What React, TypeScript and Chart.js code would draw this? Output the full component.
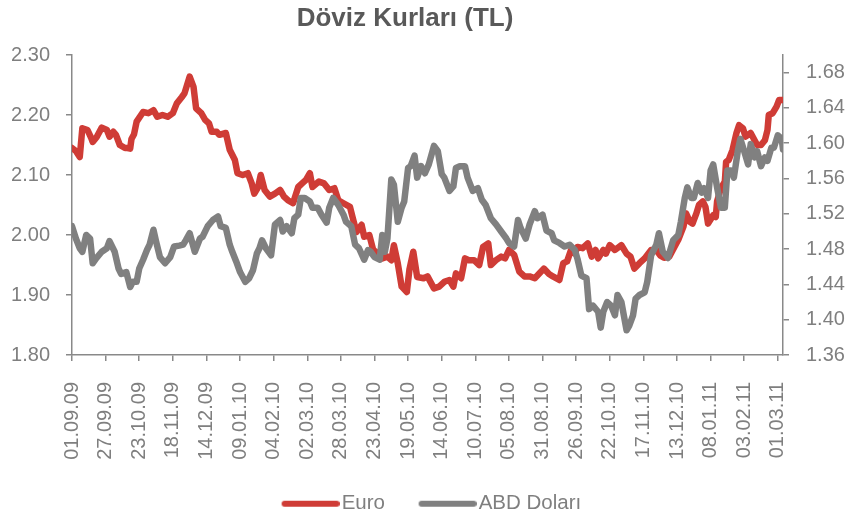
import React, { useEffect, useRef } from 'react';
import { Chart, registerables } from 'chart.js';

Chart.register(...registerables);

const FONT = "'Liberation Sans', Arial, sans-serif";

const chartTitle = 'Döviz Kurları (TL)';
const seriesNames = ['Euro', 'ABD Doları'];
const seriesColors = ['#cf3c36', '#808080'];

// x axis: day offsets from 01.09.09, one labelled tick every 26 days
const xTickLabels = [
  '01.09.09', '27.09.09', '23.10.09', '18.11.09', '14.12.09', '09.01.10',
  '04.02.10', '02.03.10', '28.03.10', '23.04.10', '19.05.10', '14.06.10',
  '10.07.10', '05.08.10', '31.08.10', '26.09.10', '22.10.10', '17.11.10',
  '13.12.10', '08.01.11', '03.02.11', '01.03.11',
];
const xTickStepDays = 26;
const lastDay = 550;

const leftTicks = [1.8, 1.9, 2.0, 2.1, 2.2, 2.3];
const rightTicks = [1.36, 1.4, 1.44, 1.48, 1.52, 1.56, 1.6, 1.64, 1.68];

// Euro / TL (left axis)
const euroDays = [
  0, 3, 6, 8, 12, 15, 16, 19, 23, 27, 29, 32, 34, 37, 41, 43, 45, 46, 48, 50,
  55, 59, 63, 66, 70, 74, 78, 81, 85, 87, 91, 94, 96, 100, 103, 106, 108, 112, 114, 119,
  122, 126, 128, 132, 136, 139, 141, 144, 146, 149, 153, 157, 161, 164, 167, 171, 175, 178, 181, 184,
  186, 191, 195, 199, 203, 206, 210, 215, 217, 220, 224, 226, 230, 233, 237, 240, 244, 247, 249, 252,
  255, 259, 261, 264, 267, 272, 275, 280, 284, 288, 292, 295, 297, 301, 304, 307, 311, 315, 318, 322,
  324, 328, 332, 335, 338, 342, 346, 350, 354, 358, 362, 365, 369, 372, 377, 380, 383, 386, 389, 391,
  395, 399, 402, 405, 407, 411, 413, 416, 420, 425, 429, 432, 435, 439, 443, 448, 452, 455, 458, 462,
  466, 469, 473, 475, 478, 480, 483, 485, 488, 490, 492, 496, 498, 499, 502, 505, 506, 508, 511, 514,
  516, 519, 521, 525, 528, 530, 533, 536, 538, 539, 542, 545, 547, 550,
];
const euroRates = [
  2.145, 2.140, 2.130, 2.178, 2.175, 2.161, 2.155, 2.163, 2.179, 2.175, 2.164, 2.172, 2.167, 2.150, 2.145, 2.145, 2.144, 2.160, 2.168, 2.189,
  2.205, 2.203, 2.208, 2.197, 2.200, 2.197, 2.203, 2.219, 2.230, 2.236, 2.264, 2.247, 2.211, 2.203, 2.192, 2.186, 2.172, 2.172, 2.167, 2.170,
  2.142, 2.125, 2.103, 2.100, 2.103, 2.086, 2.069, 2.080, 2.100, 2.075, 2.064, 2.069, 2.075, 2.064, 2.058, 2.053, 2.080, 2.086, 2.092, 2.103,
  2.080, 2.089, 2.086, 2.075, 2.078, 2.058, 2.053, 2.047, 2.030, 2.005, 2.017, 1.997, 2.000, 1.975, 1.969, 1.961, 1.964, 1.958, 1.983, 1.953,
  1.914, 1.905, 1.942, 1.972, 1.930, 1.928, 1.931, 1.911, 1.914, 1.922, 1.925, 1.914, 1.936, 1.928, 1.961, 1.958, 1.958, 1.950, 1.980, 1.986,
  1.950, 1.958, 1.964, 1.961, 1.975, 1.967, 1.939, 1.931, 1.931, 1.928, 1.937, 1.944, 1.935, 1.931, 1.925, 1.953, 1.956, 1.975, 1.969, 1.980,
  1.978, 1.986, 1.964, 1.975, 1.961, 1.975, 1.969, 1.983, 1.975, 1.983, 1.969, 1.964, 1.944, 1.953, 1.961, 1.975, 1.975, 1.966, 1.962, 1.964,
  1.980, 1.992, 2.014, 2.036, 2.022, 2.019, 2.036, 2.050, 2.056, 2.047, 2.019, 2.033, 2.030, 2.056, 2.078, 2.089, 2.122, 2.125, 2.142, 2.170,
  2.183, 2.178, 2.164, 2.170, 2.158, 2.150, 2.150, 2.158, 2.175, 2.200, 2.203, 2.214, 2.225, 2.225,
];

// USD / TL (right axis)
const usdDays = [
  0, 3, 6, 8, 11, 14, 16, 19, 23, 27, 29, 33, 36, 38, 42, 45, 47, 50, 52, 55,
  58, 60, 63, 65, 68, 72, 76, 79, 83, 86, 88, 91, 95, 99, 101, 105, 109, 113, 115, 119,
  122, 124, 127, 130, 134, 137, 140, 143, 145, 147, 150, 154, 157, 161, 163, 166, 170, 172, 175, 177,
  180, 184, 186, 190, 193, 197, 199, 202, 206, 210, 212, 216, 219, 222, 226, 229, 231, 234, 238, 240,
  242, 244, 247, 249, 252, 255, 257, 260, 262, 265, 267, 270, 273, 276, 280, 283, 286, 288, 292, 295,
  297, 300, 304, 306, 310, 314, 317, 320, 324, 328, 332, 336, 338, 342, 345, 347, 351, 354, 358, 360,
  364, 367, 371, 373, 377, 381, 385, 389, 391, 394, 398, 400, 403, 407, 409, 411, 414, 417, 420, 422,
  425, 429, 431, 434, 436, 439, 443, 445, 448, 452, 454, 457, 461, 465, 469, 471, 474, 476, 479, 481,
  484, 487, 489, 492, 494, 496, 499, 502, 505, 507, 510, 512, 515, 517, 520, 523, 525, 528, 530, 533,
  536, 538, 541, 543, 546, 549, 550,
];
const usdRates = [
  1.506, 1.492, 1.481, 1.477, 1.496, 1.492, 1.464, 1.470, 1.477, 1.481, 1.489, 1.477, 1.458, 1.452, 1.454, 1.437, 1.443, 1.443, 1.458, 1.468,
  1.479, 1.485, 1.502, 1.489, 1.471, 1.464, 1.471, 1.483, 1.484, 1.485, 1.490, 1.498, 1.477, 1.492, 1.494, 1.506, 1.513, 1.517, 1.506, 1.504,
  1.485, 1.477, 1.466, 1.454, 1.443, 1.447, 1.456, 1.475, 1.481, 1.490, 1.481, 1.473, 1.508, 1.513, 1.500, 1.506, 1.498, 1.515, 1.519, 1.538,
  1.538, 1.534, 1.527, 1.527, 1.519, 1.510, 1.527, 1.538, 1.530, 1.519, 1.511, 1.506, 1.485, 1.481, 1.468, 1.479, 1.477, 1.471, 1.468, 1.496,
  1.477, 1.492, 1.559, 1.553, 1.511, 1.527, 1.534, 1.572, 1.574, 1.586, 1.561, 1.574, 1.566, 1.576, 1.597, 1.591, 1.565, 1.561, 1.546, 1.551,
  1.572, 1.574, 1.574, 1.561, 1.546, 1.549, 1.536, 1.530, 1.515, 1.508, 1.500, 1.492, 1.487, 1.483, 1.513, 1.504, 1.492, 1.508, 1.523, 1.515,
  1.519, 1.501, 1.498, 1.490, 1.487, 1.483, 1.485, 1.479, 1.469, 1.450, 1.447, 1.412, 1.416, 1.409, 1.391, 1.409, 1.420, 1.416, 1.405, 1.428,
  1.420, 1.388, 1.393, 1.405, 1.424, 1.428, 1.431, 1.443, 1.473, 1.485, 1.498, 1.477, 1.470, 1.490, 1.496, 1.511, 1.538, 1.550, 1.538, 1.538,
  1.555, 1.544, 1.549, 1.538, 1.569, 1.576, 1.550, 1.527, 1.527, 1.569, 1.569, 1.561, 1.591, 1.605, 1.591, 1.576, 1.599, 1.584, 1.591, 1.574,
  1.584, 1.580, 1.595, 1.595, 1.609, 1.605, 1.593,
];

const AXIS_COLOR = '#898989';
const TEXT_COLOR = '#7f7f7f';
const TITLE_COLOR = '#595959';

// legend marker: a round-capped line drawn flush to the right of a wider transparent image
function legendLine(color: string, imgWidth: number, lineLen: number): HTMLCanvasElement {
  const c = document.createElement('canvas');
  c.width = Math.round(imgWidth);
  c.height = 10;
  const g = c.getContext('2d');
  if (g) {
    g.strokeStyle = color;
    g.lineWidth = 6;
    g.lineCap = 'round';
    g.beginPath();
    g.moveTo(c.width - lineLen + 3, 5);
    g.lineTo(c.width - 3, 5);
    g.stroke();
  }
  return c;
}

const titlePlugin = {
  id: 'offsetTitle',
  afterDraw(chart: any) {
    const ctx = chart.ctx;
    ctx.save();
    ctx.font = `bold 26px ${FONT}`;
    ctx.fillStyle = TITLE_COLOR;
    ctx.textAlign = 'center';
    ctx.textBaseline = 'alphabetic';
    ctx.fillText(chartTitle, 405, 26);
    ctx.restore();
  },
};

export default function App() {
  const ref = useRef<HTMLCanvasElement | null>(null);

  useEffect(() => {
    document.body.style.margin = '0';
    const canvas = ref.current;
    if (!canvas) return;

    const euroPoints = euroDays.map((d, i) => ({ x: d, y: euroRates[i] }));
    const usdPoints = usdDays.map((d, i) => ({ x: d, y: usdRates[i] }));
    const legendBoxW = 66.65;
    const legendImgs = seriesColors.map((c) => legendLine(c, legendBoxW + 16.5, 58));

    const chart = new Chart(canvas, {
      type: 'line',
      data: {
        datasets: [
          {
            label: seriesNames[0],
            data: euroPoints,
            yAxisID: 'y',
            borderColor: seriesColors[0],
            backgroundColor: seriesColors[0],
            borderWidth: 6.5,
            pointRadius: 0,
            tension: 0,
            borderJoinStyle: 'round',
            borderCapStyle: 'round',
            order: 1,
          },
          {
            label: seriesNames[1],
            data: usdPoints,
            yAxisID: 'y1',
            borderColor: seriesColors[1],
            backgroundColor: seriesColors[1],
            borderWidth: 6.5,
            pointRadius: 0,
            tension: 0,
            borderJoinStyle: 'round',
            borderCapStyle: 'round',
            order: 0,
          },
        ],
      },
      options: {
        responsive: false,
        animation: false,
        events: [],
        layout: { padding: { top: 55, left: 0, right: 0, bottom: -9 } },
        scales: {
          x: {
            type: 'linear',
            min: 0,
            max: lastDay,
            afterBuildTicks: (scale: any) => {
              scale.ticks = xTickLabels.map((_, i) => ({ value: i * xTickStepDays }));
            },
            afterFit: (scale: any) => {
              scale.height = 121.7;
            },
            ticks: {
              autoSkip: false,
              minRotation: 90,
              maxRotation: 90,
              padding: 21,
              color: TEXT_COLOR,
              font: { size: 20, family: FONT },
              callback: (v: any) => {
                const i = Math.round(Number(v) / xTickStepDays);
                return xTickLabels[i] ?? '';
              },
            },
            grid: {
              drawOnChartArea: false,
              drawTicks: true,
              tickLength: 6,
              color: AXIS_COLOR,
              lineWidth: 1.5,
            },
            border: { display: true, color: AXIS_COLOR, width: 1.5 },
          },
          y: {
            type: 'linear',
            position: 'left',
            min: 1.8,
            max: 2.3,
            afterBuildTicks: (scale: any) => {
              scale.ticks = leftTicks.map((v) => ({ value: v }));
            },
            afterFit: (scale: any) => {
              scale.width = 72;
            },
            ticks: {
              padding: 16,
              color: TEXT_COLOR,
              font: { size: 20, family: FONT },
              callback: (v: any) => Number(v).toFixed(2),
            },
            grid: {
              drawOnChartArea: false,
              drawTicks: true,
              tickLength: 6,
              color: AXIS_COLOR,
              lineWidth: 1.5,
            },
            border: { display: true, color: AXIS_COLOR, width: 1.5 },
          },
          y1: {
            type: 'linear',
            position: 'right',
            min: 1.36,
            max: 1.7,
            afterBuildTicks: (scale: any) => {
              scale.ticks = rightTicks.map((v) => ({ value: v }));
            },
            afterFit: (scale: any) => {
              scale.width = 63;
            },
            ticks: {
              padding: 17,
              color: TEXT_COLOR,
              font: { size: 20, family: FONT },
              callback: (v: any) => Number(v).toFixed(2),
            },
            grid: {
              drawOnChartArea: false,
              drawTicks: true,
              tickLength: 6,
              color: AXIS_COLOR,
              lineWidth: 1.5,
            },
            border: { display: true, color: AXIS_COLOR, width: 1.5 },
          },
        },
        plugins: {
          title: { display: false },
          legend: {
            display: true,
            position: 'bottom',
            labels: {
              usePointStyle: true,
              pointStyleWidth: legendBoxW,
              padding: 16.8,
              color: TEXT_COLOR,
              font: { size: 20.5, family: FONT },
              generateLabels: () =>
                seriesNames.map((name, i) => ({
                  text: name,
                  fillStyle: seriesColors[i],
                  strokeStyle: seriesColors[i],
                  lineWidth: 0,
                  pointStyle: legendImgs[i] as any,
                  datasetIndex: i,
                  hidden: false,
                  fontColor: TEXT_COLOR,
                })),
            },
          },
          tooltip: { enabled: false },
        },
      } as any,
      plugins: [titlePlugin],
    });

    return () => {
      chart.destroy();
    };
  }, []);

  return (
    <div style={{ width: 846, height: 515 }}>
      <canvas ref={ref} width={846} height={515} style={{ display: 'block' }} />
    </div>
  );
}
